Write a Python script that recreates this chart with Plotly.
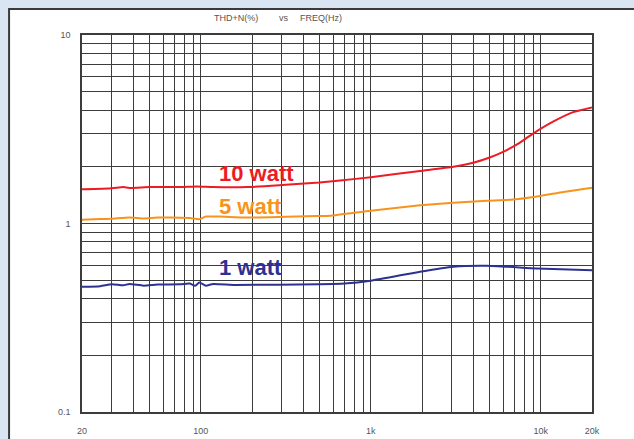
import math
import plotly.graph_objects as go

# ---- data ----
freq_10w = [20, 30, 35, 38, 50, 76, 95, 118, 186, 300, 500, 660, 1000, 1950, 3060, 4000, 5000, 6000, 7500, 9000, 11800, 15500, 20000]
thd_10w = [1.52, 1.54, 1.56, 1.545, 1.56, 1.56, 1.57, 1.56, 1.56, 1.60, 1.65, 1.69, 1.76, 1.90, 2.00, 2.10, 2.24, 2.40, 2.68, 3.00, 3.47, 3.90, 4.13]

freq_5w = [20, 25.6, 30, 38, 46, 55.5, 86, 98, 107, 129, 186, 500, 577, 1000, 1950, 3060, 4800, 6900, 9500, 13600, 20000]
thd_5w = [1.047, 1.055, 1.06, 1.075, 1.063, 1.075, 1.07, 1.055, 1.088, 1.088, 1.075, 1.096, 1.10, 1.17, 1.25, 1.29, 1.32, 1.34, 1.39, 1.47, 1.55]

freq_1w = [20, 25.6, 30, 35, 38, 46, 55.5, 76, 86, 92.6, 98, 107, 118, 160, 500, 700, 1000, 1950, 3060, 4800, 9500, 20000]
thd_1w = [0.462, 0.465, 0.476, 0.47, 0.478, 0.468, 0.474, 0.476, 0.48, 0.467, 0.486, 0.468, 0.478, 0.472, 0.476, 0.48, 0.497, 0.555, 0.59, 0.597, 0.578, 0.565]

series_names = ["10 watt", "5 watt", "1 watt"]
series_colors = ["#ed1c24", "#f7941d", "#2e3192"]
label_freq = [124, 124, 124]
label_thd = [1.85, 1.23, 0.586]

x_grid = [20, 30, 40, 50, 60, 70, 80, 90, 100, 200, 300, 400, 500, 600, 700, 800, 900,
          1000, 2000, 3000, 4000, 5000, 6000, 7000, 8000, 9000, 10000, 20000]
x_labels = {20: "20", 100: "100", 1000: "1k", 10000: "10k", 20000: "20k"}
y_grid = [0.1, 0.2, 0.3, 0.4, 0.5, 0.6, 0.7, 0.8, 0.9, 1, 2, 3, 4, 5, 6, 7, 8, 9, 10]
y_labels = {0.1: "0.1", 1: "1", 10: "10"}

title_parts = ["THD+N(%)", "vs", "FREQ(Hz)"]
title_x = [0.302, 0.397, 0.4686]

# ---- figure ----
fig = go.Figure()
for f, v, c, n in zip([freq_10w, freq_5w, freq_1w], [thd_10w, thd_5w, thd_1w], series_colors, series_names):
    fig.add_trace(go.Scatter(x=f, y=v, mode="lines", name=n,
                             line=dict(color=c, width=2, shape="spline", smoothing=0.5),
                             hoverinfo="skip"))

for n, c, fx, fy in zip(series_names, series_colors, label_freq, label_thd):
    fig.add_annotation(x=math.log10(fx), y=math.log10(fy), xref="x", yref="y",
                       text=n, showarrow=False, xanchor="left", yanchor="middle",
                       font=dict(family="Liberation Sans, Arial", size=22, color=c, weight="bold"))

tick_font = dict(family="Liberation Sans Narrow, Liberation Sans, Arial", size=9, color="#555555")
for t, tx in zip(title_parts, title_x):
    fig.add_annotation(x=tx, y=1.044, xref="paper", yref="paper", text=t, showarrow=False,
                       xanchor="center", yanchor="middle", font=tick_font)

# white panel with dark border
fig.add_shape(type="rect", xref="paper", yref="paper",
              x0=-0.143, x1=1.2, y0=-0.2, y1=1.069,
              line=dict(color="#3a3a3a", width=2), fillcolor="white", layer="below")

grid_color = "#3c3c3c"
fig.update_xaxes(type="log", range=[math.log10(20), math.log10(20000)],
                 tickvals=x_grid, ticktext=[x_labels.get(v, "") for v in x_grid],
                 showgrid=True, gridcolor=grid_color, gridwidth=1.4,
                 showline=True, linecolor=grid_color, linewidth=1.6, mirror=True,
                 ticks="", tickfont=tick_font, ticklabelstandoff=9, zeroline=False,
                 automargin=False)
fig.update_yaxes(type="log", range=[-1, 1],
                 tickvals=y_grid, ticktext=[y_labels.get(v, "") for v in y_grid],
                 showgrid=True, gridcolor=grid_color, gridwidth=1.4,
                 showline=True, linecolor=grid_color, linewidth=1.6, mirror=True,
                 ticks="", tickfont=tick_font, ticklabelstandoff=8, zeroline=False,
                 automargin=False)

fig.update_layout(width=634, height=439,
                  margin=dict(l=82, r=42, t=35, b=27),
                  paper_bgcolor="#dae5f4", plot_bgcolor="white",
                  showlegend=False)

fig.write_html("out.html")
